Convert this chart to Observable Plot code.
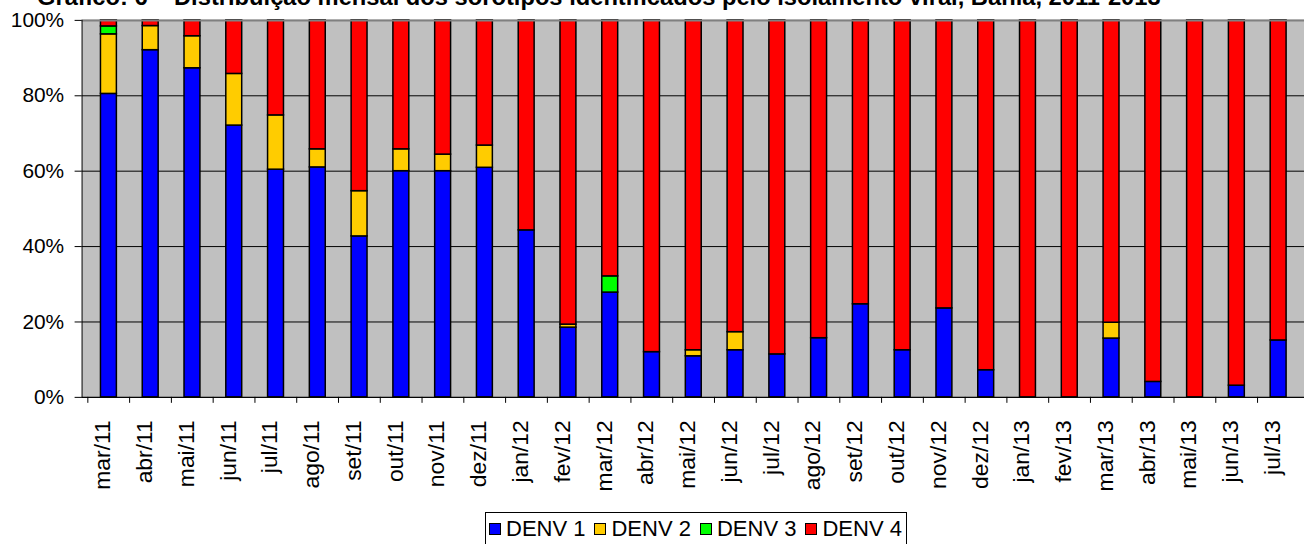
<!DOCTYPE html>
<html>
<head>
<meta charset="utf-8">
<script src="https://cdn.jsdelivr.net/npm/d3@7"></script>
<script src="https://cdn.jsdelivr.net/npm/@observablehq/plot@0.6"></script>
<style>
  html, body { margin: 0; padding: 0; background: #fff; overflow: hidden; width: 1304px; height: 544px; }
  #wrap { position: relative; width: 1304px; height: 544px; overflow: hidden; font-family: "Liberation Sans", Arial, sans-serif; }
  #title { position: absolute; left: 37px; top: -14px; font-weight: bold; font-size: 23.5px; line-height: 1; white-space: nowrap; color: #000; }
  #chart { position: absolute; left: 0; top: 0; }
  #legend { position: absolute; left: 485px; top: 512px; width: 422px; height: 44px; border: 1px solid #000; box-sizing: border-box; display: flex; align-items: flex-start; padding-top: 3px; padding-left: 3px; font-size: 22px; color: #000; background: #fff; }
  .item { display: flex; align-items: center; margin-right: 9px; white-space: nowrap; }
  .sw { width: 10px; height: 10px; border: 1px solid #000; margin-right: 5px; }
</style>
</head>
<body>
<div id="wrap">
  <div id="chart"></div>
  <div id="title">Gráfico: 6 – Distribuição mensal dos sorotipos identificados pelo isolamento viral, Bahia, 2011-2013</div>
  <div id="legend"></div>
</div>
<script>
const months = ["mar/11","abr/11","mai/11","jun/11","jul/11","ago/11","set/11","out/11","nov/11","dez/11",
  "jan/12","fev/12","mar/12","abr/12","mai/12","jun/12","jul/12","ago/12","set/12","out/12","nov/12","dez/12",
  "jan/13","fev/13","mar/13","abr/13","mai/13","jun/13","jul/13"];
const series = ["DENV 1", "DENV 2", "DENV 3", "DENV 4"];
const colors = ["#0000FF", "#FFCC00", "#00FF00", "#FF0000"];
const denv1 = [80.5, 92.1, 87.3, 72.1, 60.4, 61.0, 42.7, 60.0, 60.0, 60.9, 44.3, 18.5, 27.8, 12.0, 10.9, 12.5, 11.4, 15.7, 24.7, 12.5, 23.6, 7.2, 0, 0, 15.6, 4.1, 0, 3.1, 15.1];
const denv2 = [15.8, 6.4, 8.5, 13.7, 14.4, 4.8, 12.0, 5.8, 4.4, 5.9, 0, 0.8, 0, 0, 1.6, 4.8, 0, 0, 0, 0, 0, 0, 0, 0, 4.2, 0, 0, 0, 0];
const denv3 = [2.1, 0, 0, 0, 0, 0, 0, 0, 0, 0, 0, 0, 4.3, 0, 0, 0, 0, 0, 0, 0, 0, 0, 0, 0, 0, 0, 0, 0, 0];
const denv4 = [1.6, 1.5, 4.2, 14.2, 25.2, 34.2, 45.3, 34.2, 35.6, 33.2, 55.7, 80.7, 67.9, 88.0, 87.5, 82.7, 88.6, 84.3, 75.3, 87.5, 76.4, 92.8, 100, 100, 80.2, 95.9, 100, 96.9, 84.9];
const yTicks = [0, 20, 40, 60, 80, 100];

const seriesValues = [denv1, denv2, denv3, denv4];
const rows = [];
months.forEach((m, i) => {
  series.forEach((s, j) => {
    rows.push({month: m, serie: s, value: seriesValues[j][i]});
  });
});

const W = 1311, ML = 82;
const step = (W - ML) / months.length;

const chart = Plot.plot({
  width: W,
  height: 500,
  marginLeft: ML,
  marginRight: 0,
  marginTop: 20,
  marginBottom: 101,
  style: {fontFamily: "'Liberation Sans', Arial, sans-serif", background: "transparent", color: "#000", overflow: "visible"},
  x: {domain: months, paddingInner: 0.62, paddingOuter: 0.31, label: null},
  y: {domain: [0, 100], label: null},
  color: {domain: series, range: colors},
  marks: [
    Plot.frame({fill: "#C0C0C0", stroke: null}),
    Plot.gridY(yTicks, {stroke: "#000", strokeOpacity: 1, strokeWidth: 1}),
    Plot.barY(rows.filter(d => d.value > 0), {x: "month", y: "value", fill: "serie", stroke: "#000", strokeWidth: 1.5}),
    Plot.ruleY([100], {stroke: "#808080", strokeWidth: 2}),
    Plot.frame({anchor: "left", stroke: "#000"}),
    Plot.frame({anchor: "bottom", stroke: "#000"}),
    Plot.axisY(yTicks, {tickSize: 7, tickPadding: 11, tickFormat: d => d + "%", fontSize: 21, label: null}),
    Plot.axisX({tickSize: 6, tickFormat: () => "", dx: -step / 2, label: null}),
    Plot.axisX({tickSize: 0, tickPadding: 23, tickRotate: -90, fontSize: 23, dx: -6, label: null})
  ]
});
document.getElementById("chart").appendChild(chart);

// fit title width to the reference span (x 37 → 1161), baseline near y = 6
const title = document.getElementById("title");
const ctx = document.createElement("canvas").getContext("2d");
ctx.font = "bold 20px 'Liberation Sans', Arial, sans-serif";
const w20 = ctx.measureText(title.textContent).width;
const fs = 20 * 1124 / w20;
title.style.fontSize = fs + "px";
title.style.top = (6 - 0.8465 * fs) + "px";

const legend = document.getElementById("legend");
series.forEach((s, j) => {
  const it = document.createElement("div");
  it.className = "item";
  const sw = document.createElement("div");
  sw.className = "sw";
  sw.style.background = colors[j];
  const tx = document.createElement("span");
  tx.textContent = s;
  it.appendChild(sw);
  it.appendChild(tx);
  legend.appendChild(it);
});
</script>
</body>
</html>
